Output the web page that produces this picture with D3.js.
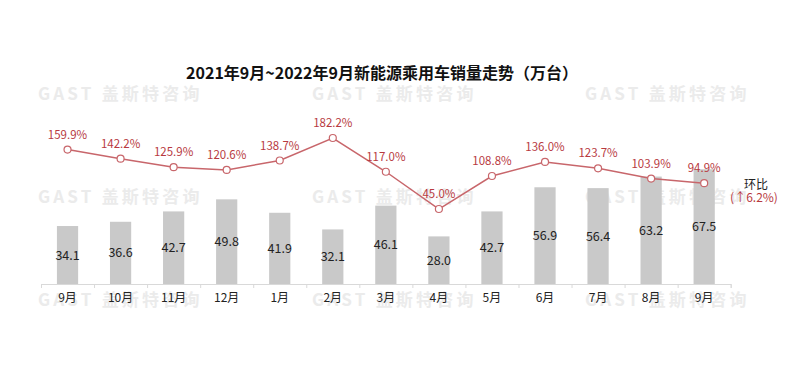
<!DOCTYPE html>
<html><head><meta charset="utf-8">
<script src="https://cdn.jsdelivr.net/npm/d3@7/dist/d3.min.js"></script>
<style>body{margin:0;background:#fff;}svg{display:block;}</style>
</head><body>
<svg id="c" width="800" height="368"></svg>
<script>
const categories = ["9月","10月","11月","12月","1月","2月","3月","4月","5月","6月","7月","8月","9月"];
const sales = [34.1,36.6,42.7,49.8,41.9,32.1,46.1,28.0,42.7,56.9,56.4,63.2,67.5];
const growth = [159.9,142.2,125.9,120.6,138.7,182.2,117.0,45.0,108.8,136.0,123.7,103.9,94.9];
const title = "2021年9月~2022年9月新能源乘用车销量走势（万台）";
const watermark = "GAST 盖斯特咨询";

const svg = d3.select("#c");
const font = "'Noto Sans CJK SC','Noto Sans',sans-serif";
const red = "#b83a3f";

// watermarks
const wmRows = [100, 203, 306], wmCols = [38, 312, 585];
wmRows.forEach(y => wmCols.forEach(x => {
  svg.append("text").attr("x", x).attr("y", y).text(watermark)
    .attr("font-family", font).attr("font-size", 17).attr("font-weight", "bold")
    .attr("letter-spacing", 3.2).attr("fill", "#ebebeb");
}));

const x = d3.scaleBand().domain(d3.range(categories.length)).range([41, 730.7]).paddingInner(0.6).paddingOuter(0.3);
const yBar = d3.scaleLinear().domain([0, 80]).range([284, 148]);
const yLine = d3.scaleLinear().domain([0, 200]).range([232.3, 128.8]);

// bars
svg.append("g").selectAll("rect").data(sales).join("rect")
  .attr("x", (d,i) => x(i)).attr("width", x.bandwidth())
  .attr("y", d => yBar(d)).attr("height", d => yBar(0) - yBar(d))
  .attr("fill", "#c9c9c9");

// bar labels
svg.append("g").selectAll("text").data(sales).join("text")
  .attr("x", (d,i) => x(i) + x.bandwidth()/2)
  .attr("y", d => (yBar(d) + yBar(0))/2 + 4.5)
  .attr("text-anchor", "middle").attr("font-family", font).attr("font-size", 12.5)
  .attr("fill", "#222").text(d => d.toFixed(1));

// x axis
const axis = d3.axisBottom(d3.scaleLinear().domain([0, categories.length]).range([41, 730.7]))
  .ticks(categories.length).tickSizeInner(4).tickSizeOuter(4).tickFormat("");
const ag = svg.append("g").attr("transform", "translate(0,284)").call(axis);
ag.selectAll("path,line").attr("stroke", "#d9d9d9");
svg.append("g").selectAll("text").data(categories).join("text")
  .attr("x", (d,i) => x(i) + x.bandwidth()/2).attr("y", 302)
  .attr("text-anchor", "middle").attr("font-family", font).attr("font-size", 12)
  .attr("fill", "#222").text(d => d);

// line
const cx = i => x(i) + x.bandwidth()/2;
svg.append("path").datum(growth)
  .attr("d", d3.line().x((d,i) => cx(i)).y(d => yLine(d)))
  .attr("fill", "none").attr("stroke", "#c8666b").attr("stroke-width", 1.5);
svg.append("g").selectAll("circle").data(growth).join("circle")
  .attr("cx", (d,i) => cx(i)).attr("cy", d => yLine(d)).attr("r", 3.5)
  .attr("fill", "#fff").attr("stroke", "#c8666b").attr("stroke-width", 1.2);
svg.append("g").selectAll("text").data(growth).join("text")
  .attr("x", (d,i) => cx(i)).attr("y", d => yLine(d) - 11)
  .attr("text-anchor", "middle").attr("font-family", font).attr("font-size", 11.5)
  .attr("fill", red).text(d => d.toFixed(1) + "%");

// title
svg.append("text").attr("x", 382).attr("y", 79).attr("text-anchor", "middle")
  .attr("font-family", font).attr("font-size", 16).attr("font-weight", "bold")
  .attr("fill", "#111").text(title);

// annotation
svg.append("text").attr("x", 756).attr("y", 189).attr("text-anchor", "middle")
  .attr("font-family", font).attr("font-size", 12).attr("fill", "#222").text("环比");
svg.append("text").attr("x", 754).attr("y", 202).attr("text-anchor", "middle")
  .attr("font-family", font).attr("font-size", 12).attr("fill", red).text("(↑6.2%)");
</script>
</body></html>
